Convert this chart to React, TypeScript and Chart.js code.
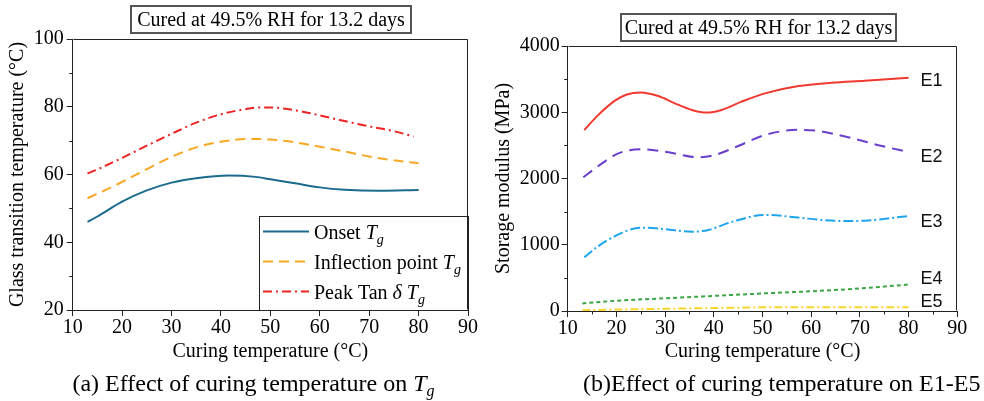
import React, { useEffect, useRef } from "react";
import { Chart, registerables } from "chart.js";

Chart.register(...registerables);

const SERIF = '"Liberation Serif", "Times New Roman", serif';
const SANS = '"Liberation Sans", Arial, sans-serif';

// ---------- Panel (a): glass transition temperature ----------
const onsetTemp = [13, 15, 20, 25, 30, 35, 41.6, 47, 50, 55, 60, 65, 72, 80];
const onsetTg = [46.0, 47.6, 52.0, 55.3, 57.6, 58.9, 59.7, 59.3, 58.6, 57.4, 56.2, 55.5, 55.2, 55.4];

const inflectionTemp = [13, 15, 20, 25, 30, 35, 40, 46, 50, 55, 60, 65, 70, 75, 80];
const inflectionTg = [53.0, 54.3, 57.8, 61.6, 65.2, 68.0, 69.7, 70.5, 70.3, 69.5, 68.2, 66.8, 65.3, 64.2, 63.3];

const peakTemp = [13, 15, 20, 25, 30, 35, 40, 45, 48, 52, 57, 64, 70, 75, 79];
const peakTg = [60.3, 61.5, 64.9, 68.5, 72.0, 75.3, 77.8, 79.3, 79.8, 79.6, 78.4, 76.1, 74.2, 72.8, 71.2];

const tgMinorTicks = [30, 50, 70, 90];

// ---------- Panel (b): storage modulus ----------
const e1Temp = [13.4, 16.3, 19.7, 22, 25, 28.6, 32, 35.5, 38.5, 41.6, 45.7, 50.5, 57.4, 64.2, 71, 80];
const e1Mod = [2730, 2960, 3175, 3265, 3300, 3245, 3135, 3035, 2995, 3035, 3160, 3285, 3395, 3445, 3476, 3522];

const e2Temp = [13.2, 16.3, 20.4, 25.2, 30, 36.8, 40.2, 45, 50.5, 57.4, 61.5, 67.6, 74.5, 80];
const e2Mod = [2018, 2189, 2380, 2440, 2405, 2320, 2355, 2490, 2657, 2735, 2717, 2622, 2490, 2400];

const e3Temp = [13.4, 16.3, 19.7, 23.1, 25.9, 30, 35.5, 38.9, 43.7, 50.5, 57.4, 62, 67, 71, 80];
const e3Mod = [810, 980, 1130, 1233, 1258, 1235, 1197, 1223, 1345, 1450, 1410, 1375, 1358, 1363, 1434];

const e4Temp = [13, 20, 30, 40, 50, 60, 70, 80];
const e4Mod = [115, 155, 192, 228, 265, 298, 340, 400];

const e5Temp = [13, 20, 30, 40, 50, 60, 70, 80];
const e5Mod = [12, 22, 33, 45, 55, 58, 56, 55];

const modulusLabels = ["E1", "E2", "E3", "E4", "E5"];
const modulusLabelDy = [3, 5, 6, -5, -5];
const modulusMinorTicks = [500, 1500, 2500, 3500];
const tempMinorTicks = [15, 25, 35, 45, 55, 65, 75, 85];

type Seg = { t: string; i?: boolean; sub?: boolean };
const tgLegend: Seg[][] = [
  [{ t: "Onset " }, { t: "T", i: true }, { t: "g", i: true, sub: true }],
  [{ t: "Inflection point " }, { t: "T", i: true }, { t: "g", i: true, sub: true }],
  [{ t: "Peak Tan " }, { t: "δ", i: true }, { t: " " }, { t: "T", i: true }, { t: "g", i: true, sub: true }],
];

const pts = (xs: number[], ys: number[]) => xs.map((x, i) => ({ x, y: ys[i] }));

const lineDs = (label: string, xs: number[], ys: number[], color: string, dash: number[]) => ({
  label,
  data: pts(xs, ys),
  borderColor: color,
  backgroundColor: color,
  borderWidth: 2,
  borderDash: dash,
  pointRadius: 0,
  fill: false,
  cubicInterpolationMode: "monotone" as const,
});

const framePlugin = (minorX: number[], minorY: number[]) => ({
  id: "frameMinor",
  afterDraw(chart: any) {
    const { ctx, chartArea: a, scales } = chart;
    ctx.save();
    ctx.strokeStyle = "#222";
    ctx.lineWidth = 1;
    ctx.setLineDash([]);
    const L = Math.round(a.left) + 0.5;
    const R = Math.round(a.right) - 0.5;
    const T = Math.round(a.top) + 0.5;
    const B = Math.round(a.bottom) - 0.5;
    ctx.beginPath();
    ctx.moveTo(L, T);
    ctx.lineTo(R, T);
    ctx.lineTo(R, B);
    ctx.stroke();
    ctx.beginPath();
    minorY.forEach((v) => {
      const y = Math.round(scales.y.getPixelForValue(v)) + 0.5;
      ctx.moveTo(a.left - 3.5, y);
      ctx.lineTo(a.left, y);
    });
    minorX.forEach((v) => {
      const x = Math.round(scales.x.getPixelForValue(v)) + 0.5;
      ctx.moveTo(x, a.bottom);
      ctx.lineTo(x, a.bottom + 3.5);
    });
    ctx.stroke();
    ctx.restore();
  },
});

const tgLegendPlugin = {
  id: "tgLegend",
  afterDatasetsDraw(chart: any) {
    const { ctx, chartArea: a } = chart;
    const w = 209;
    const h = 94;
    const bx = a.right - w;
    const by = a.bottom - h;
    ctx.save();
    ctx.fillStyle = "#fff";
    ctx.fillRect(bx, by, w, h);
    ctx.strokeStyle = "#222";
    ctx.lineWidth = 1;
    ctx.strokeRect(Math.round(bx) + 0.5, Math.round(by) + 0.5, w, h);
    chart.data.datasets.forEach((ds: any, i: number) => {
      const cy = Math.round(by + 15 + i * 30) + 0.5;
      ctx.strokeStyle = ds.borderColor;
      ctx.lineWidth = ds.borderWidth;
      ctx.setLineDash(ds.borderDash || []);
      ctx.beginPath();
      ctx.moveTo(bx + 4, cy);
      ctx.lineTo(bx + 50, cy);
      ctx.stroke();
      ctx.setLineDash([]);
      let x = bx + 55;
      const base = cy + 7;
      ctx.fillStyle = "#000";
      ctx.textBaseline = "alphabetic";
      ctx.textAlign = "left";
      tgLegend[i].forEach((s) => {
        const size = s.sub ? 14 : 20;
        ctx.font = `${s.i ? "italic " : ""}${size}px ${SERIF}`;
        ctx.fillText(s.t, x, s.sub ? base + 5 : base);
        x += ctx.measureText(s.t).width;
      });
    });
    ctx.restore();
  },
};

const endLabelPlugin = {
  id: "endLabels",
  afterDatasetsDraw(chart: any) {
    const { ctx } = chart;
    ctx.save();
    ctx.font = `18px ${SANS}`;
    ctx.fillStyle = "#111";
    ctx.textAlign = "left";
    ctx.textBaseline = "middle";
    chart.data.datasets.forEach((ds: any, i: number) => {
      const meta = chart.getDatasetMeta(i);
      const last = meta.data[meta.data.length - 1];
      ctx.fillText(modulusLabels[i], last.x + 12, last.y + modulusLabelDy[i]);
    });
    ctx.restore();
  },
};

const tickFont = { family: SERIF, size: 20, lineHeight: 1.2 };
const titleFont = { family: SERIF, size: 20, lineHeight: 1.2 };
const plainTick = (v: any) => String(v);

function makeScales(opts: {
  yMin: number; yMax: number; yStep: number; yTitle: string; yWidth: number; yTitlePad: number; yTickPad: number; xHeight: number;
}) {
  return {
    x: {
      type: "linear" as const,
      min: 10,
      max: 90,
      ticks: { stepSize: 10, font: tickFont, color: "#000", padding: 0, maxRotation: 0, autoSkip: false, callback: plainTick },
      grid: { drawOnChartArea: false, drawTicks: true, tickLength: 6, color: "#222" },
      border: { color: "#222", width: 1 },
      title: { display: true, text: "Curing temperature (°C)", font: titleFont, color: "#000", padding: { top: 0, bottom: 37 } },
      afterFit(s: any) { s.height = opts.xHeight; },
    },
    y: {
      type: "linear" as const,
      min: opts.yMin,
      max: opts.yMax,
      ticks: { stepSize: opts.yStep, font: tickFont, color: "#000", padding: opts.yTickPad, callback: plainTick },
      grid: { drawOnChartArea: false, drawTicks: true, tickLength: 6, color: "#222" },
      border: { color: "#222", width: 1 },
      title: { display: true, text: opts.yTitle, font: titleFont, color: "#000", padding: { top: opts.yTitlePad, bottom: 0 } },
      afterFit(s: any) { s.width = opts.yWidth; },
    },
  };
}

export default function App() {
  const leftRef = useRef<HTMLCanvasElement>(null);
  const rightRef = useRef<HTMLCanvasElement>(null);

  useEffect(() => {
    document.body.style.margin = "0";
    const left = new Chart(leftRef.current!, {
      type: "line",
      data: {
        datasets: [
          lineDs("Onset Tg", onsetTemp, onsetTg, "#1a6b8e", []),
          lineDs("Inflection point Tg", inflectionTemp, inflectionTg, "#f7a722", [10, 6]),
          lineDs("Peak Tan δ Tg", peakTemp, peakTg, "#ee2424", [9, 4, 2, 4]),
        ],
      },
      options: {
        responsive: false,
        animation: false,
        layout: { padding: { left: 0, right: 24, top: 39, bottom: 0 } },
        plugins: { legend: { display: false }, tooltip: { enabled: false } },
        scales: makeScales({
          yMin: 20, yMax: 100, yStep: 20, yTitle: "Glass transition temperature (°C)",
          yWidth: 72.7, yTitlePad: 6, yTickPad: 3, xHeight: 91,
        }),
      },
      plugins: [tgLegendPlugin, framePlugin([], tgMinorTicks)],
    });
    const right = new Chart(rightRef.current!, {
      type: "line",
      data: {
        datasets: [
          lineDs("E1", e1Temp, e1Mod, "#f0392f", []),
          lineDs("E2", e2Temp, e2Mod, "#6a3fcc", [11, 7]),
          lineDs("E3", e3Temp, e3Mod, "#1ea5ee", [10, 3, 2, 3]),
          lineDs("E4", e4Temp, e4Mod, "#3da644", [4, 3]),
          lineDs("E5", e5Temp, e5Mod, "#fad42a", [8, 3, 2, 3]),
        ],
      },
      options: {
        responsive: false,
        animation: false,
        layout: { padding: { left: 0, right: 26.7, top: 46, bottom: 0 } },
        plugins: { legend: { display: false }, tooltip: { enabled: false } },
        scales: makeScales({
          yMin: 0, yMax: 4000, yStep: 1000, yTitle: "Storage modulus (MPa)",
          yWidth: 75.7, yTitlePad: 0, yTickPad: 2, xHeight: 90,
        }),
      },
      plugins: [endLabelPlugin, framePlugin(tempMinorTicks, modulusMinorTicks)],
    });
    return () => {
      left.destroy();
      right.destroy();
    };
  }, []);

  const box: React.CSSProperties = {
    position: "absolute",
    boxSizing: "border-box",
    border: "2px solid #555",
    fontSize: 20,
    lineHeight: "24px",
    textAlign: "center",
    whiteSpace: "nowrap",
    color: "#000",
  };
  const caption: React.CSSProperties = {
    position: "absolute",
    fontSize: 24,
    lineHeight: "28px",
    whiteSpace: "nowrap",
    color: "#000",
  };

  return (
    <div style={{ position: "absolute", left: 0, top: 0, width: 984, height: 401, background: "#fff", fontFamily: SERIF, overflow: "hidden" }}>
      <canvas ref={leftRef} width={492} height={401} style={{ position: "absolute", left: 0, top: 0 }} />
      <canvas ref={rightRef} width={492} height={401} style={{ position: "absolute", left: 492, top: 0 }} />
      <div style={{ ...box, left: 130, top: 5, width: 282, height: 29 }}>Cured at 49.5% RH for 13.2 days</div>
      <div style={{ ...box, left: 620, top: 13, width: 277, height: 29 }}>Cured at 49.5% RH for 13.2 days</div>
      <div style={{ ...caption, left: 0, width: 507, top: 369, textAlign: "center" }}>
        (a) Effect of curing temperature on <i>T<sub style={{ fontSize: 16, verticalAlign: "-5px", lineHeight: 0 }}>g</sub></i>
      </div>
      <div style={{ ...caption, left: 583, top: 369 }}>(b)Effect of curing temperature on E1-E5</div>
    </div>
  );
}
